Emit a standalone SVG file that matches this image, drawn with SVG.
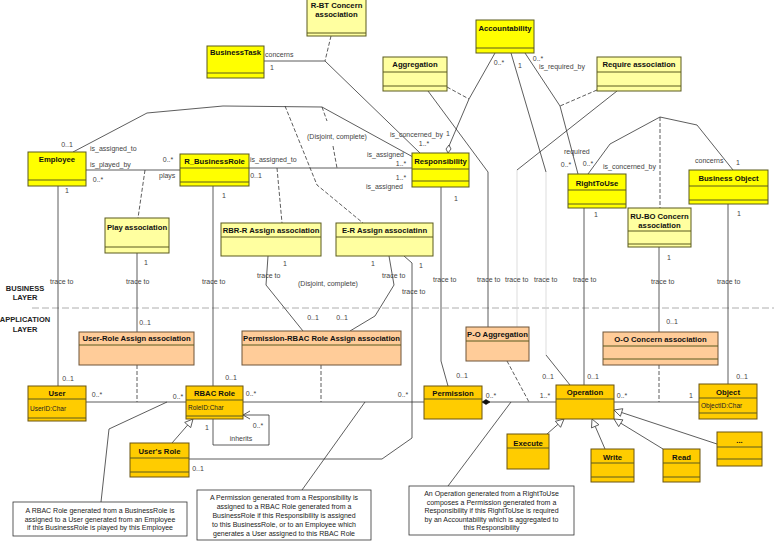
<svg xmlns="http://www.w3.org/2000/svg" width="774" height="541" viewBox="0 0 774 541">
<style>
.b{fill:#FFFF00;stroke:#5a5a1e;stroke-width:1}
.a{fill:#FFFFA0;stroke:#5a5a1e;stroke-width:1}
.o{fill:#FFCC99;stroke:#6e5538;stroke-width:1}
.g{fill:#FFCC00;stroke:#6b5410;stroke-width:1}
.s{stroke:#5a5a1e;stroke-width:1}
.t{font-family:"Liberation Sans",Arial,sans-serif;font-size:7.7px;font-weight:bold;fill:#111;text-anchor:middle}
.at{font-family:"Liberation Sans",Arial,sans-serif;font-size:6.5px;fill:#222}
.l{font-family:"Liberation Sans",Arial,sans-serif;font-size:7px;fill:#444}
.m{font-family:"Liberation Sans",Arial,sans-serif;font-size:7px;fill:#444;text-anchor:middle}
.n{font-family:"Liberation Sans",Arial,sans-serif;font-size:7px;fill:#222;text-anchor:middle}
.ly{font-family:"Liberation Sans",Arial,sans-serif;font-size:7.5px;font-weight:bold;fill:#222;text-anchor:middle}
.c{fill:none;stroke:#333;stroke-width:0.8}
.f{fill:none;stroke:#d4d4d4;stroke-width:0.8}
.d{fill:none;stroke:#333;stroke-width:0.8;stroke-dasharray:4,2}
.note{fill:#fff;stroke:#333;stroke-width:0.8}
.tri{fill:#fff;stroke:#333;stroke-width:0.8}
</style>
<rect width="774" height="541" fill="#fff"/>

<!-- layer separator -->
<line x1="32" y1="308" x2="774" y2="308" stroke="#999" stroke-width="0.8" stroke-dasharray="7,3"/>
<text class="ly" x="25" y="291">BUSINESS</text>
<text class="ly" x="25" y="300">LAYER</text>
<text class="ly" x="25" y="322">APPLICATION</text>
<text class="ly" x="25" y="332">LAYER</text>

<g id="connectors">
<!-- BusinessTask - Responsibility -->
<path class="c" d="M264,61 H325 L420,153"/>
<path class="d" d="M331,36 L325,61"/>
<!-- Employee - Responsibility -->
<path class="c" d="M73,152 L147,113 L223,106 L322,107 L413,157"/>
<path class="d" d="M322,107 L327,121 M333,146 L337,168"/>
<path class="d" d="M285,106 L317,185 L363,223"/>
<!-- Employee - R_BusinessRole -->
<path class="c" d="M86,170 H180"/>
<path class="d" d="M145,170 L138,218"/>
<!-- R_BusinessRole - Responsibility -->
<path class="c" d="M249,168 H412"/>
<path class="d" d="M277,168 L282,223"/>
<!-- Accountability - Responsibility aggregation -->
<path class="c" d="M495,53 L469,99 L449,146"/>
<polygon class="tri" points="448,153 446,149 449,145 451,149"/>
<path class="d" d="M447,87 L469,99"/>
<!-- Aggregation trace to P-O -->
<path class="c" d="M428,91 L488,172 V327"/>
<!-- Accountability trace -->
<path class="c" d="M511,53 L546,172"/>
<path class="f" d="M546,172 V355"/>
<path class="c" d="M546,355 L570,385"/>
<!-- Require association trace -->
<path class="c" d="M617,91 L517,170"/>
<path class="f" d="M517,170 V327"/>
<!-- Accountability - RightToUse -->
<path class="c" d="M525,53 L560,106 L578,174"/>
<path class="d" d="M597,90 L560,106"/>
<!-- RightToUse - Business Object -->
<path class="c" d="M588,174 L610,144 L660,117 L697,125 L733,170"/>
<path class="d" d="M660,117 V208"/>
<!-- trace lines -->
<path class="c" d="M58,186 V386"/>
<path class="c" d="M213,186 V386"/>
<path class="c" d="M137,253 V332"/>
<path class="d" d="M137,365 V402"/>
<path class="c" d="M268,256 L266,285 L303,331"/>
<path class="c" d="M389,256 L394,285 L375,316 L350,331"/>
<path class="c" d="M404,256 L412,263 V438 L382,459 H189"/>
<path class="c" d="M441,187 V361 L448,386"/>
<path class="c" d="M584,208 V385"/>
<path class="c" d="M659,247 V332"/>
<path class="d" d="M659,365 V402"/>
<path class="c" d="M728,204 V384"/>
<!-- application layer associations -->
<path class="c" d="M86,402 H186"/>
<path class="c" d="M243,402 H424"/>
<path class="d" d="M321,365 V402"/>
<path class="c" d="M482,402 H556"/>
<polygon points="482,402 486,399.5 490,402 486,404.5" fill="#111" stroke="#111" stroke-width="0.6"/>
<path class="d" d="M507,361 L529,402"/>
<path class="c" d="M614,402 H699"/>
<!-- inherits -->
<path class="c" d="M213,419 V445 H269 V415 H243"/>
<path class="c" d="M250,411 L243,415 L250,419"/>
<!-- generalizations -->
<path class="c" d="M172,443 L187.7,425"/>
<polygon class="tri" points="193,419 190.7,427.6 184.7,422.4"/>
<path class="c" d="M547,434 L558,424.3"/>
<polygon class="tri" points="564,419 560.6,427.3 555.4,421.3"/>
<path class="c" d="M605,449 L595.2,426.3"/>
<polygon class="tri" points="592,419 598.9,424.7 591.5,427.9"/>
<path class="c" d="M663,449 L620.8,423.2"/>
<polygon class="tri" points="614,419 622.9,419.8 618.7,426.6"/>
<path class="c" d="M717,444 L621.6,412.5"/>
<polygon class="tri" points="614,410 622.85,408.7 620.35,416.3"/>
<!-- notes links -->
<path class="c" d="M101,502 L109,429 L167,402"/>
<path class="c" d="M302,490 L365,402"/>
<path class="c" d="M448,486 L511,402"/>
</g>

<g id="labels">
<text class="l" x="265" y="57">concerns</text>
<text class="m" x="272" y="70">1</text>
<text class="m" x="67" y="147">0..1</text>
<text class="l" x="90" y="151">is_assigned_to</text>
<text class="l" x="90" y="167">is_played_by</text>
<text class="m" x="98" y="182">0..*</text>
<text class="m" x="168" y="162">0..*</text>
<text class="l" x="159" y="178">plays</text>
<text class="l" x="250" y="162">is_assigned_to</text>
<text class="m" x="256" y="178">0..1</text>
<text class="l" x="307" y="139">(Disjoint, complete)</text>
<text class="l" x="390" y="137">is_concerned_by</text>
<text class="m" x="448" y="136">1</text>
<text class="m" x="424" y="146">1..*</text>
<text class="l" x="367" y="157">is_assigned</text>
<text class="m" x="401" y="166">1..*</text>
<text class="m" x="401" y="180">1..*</text>
<text class="l" x="366" y="189">is_assigned</text>
<text class="m" x="499" y="65">0..*</text>
<text class="m" x="520" y="68">1</text>
<text class="m" x="538" y="61">0..*</text>
<text class="l" x="539" y="69">is_required_by</text>
<text class="l" x="564" y="154">required</text>
<text class="m" x="566" y="167">0..*</text>
<text class="m" x="588" y="166">0..*</text>
<text class="l" x="603" y="169">is_concerned_by</text>
<text class="l" x="695" y="163">concerns</text>
<text class="m" x="738" y="165">1</text>
<text class="m" x="67" y="193">1</text>
<text class="m" x="224" y="198">1</text>
<text class="m" x="146" y="265">1</text>
<text class="m" x="145" y="325">0..1</text>
<text class="m" x="285" y="266">1</text>
<text class="m" x="313" y="320">0..1</text>
<text class="m" x="373" y="266">1</text>
<text class="m" x="342" y="320">0..1</text>
<text class="m" x="421" y="268">1</text>
<text class="m" x="456" y="201">1</text>
<text class="m" x="596" y="217">1</text>
<text class="m" x="669" y="260">1</text>
<text class="m" x="672" y="324">0..1</text>
<text class="m" x="739" y="216">1</text>
<text class="l" x="298" y="286">(Disjoint, complete)</text>
<text class="l" x="50" y="284">trace to</text>
<text class="l" x="126" y="284">trace to</text>
<text class="l" x="202" y="284">trace to</text>
<text class="l" x="257" y="278">trace to</text>
<text class="l" x="382" y="278">trace to</text>
<text class="l" x="402" y="294">trace to</text>
<text class="l" x="433" y="282">trace to</text>
<text class="l" x="477" y="282">trace to</text>
<text class="l" x="505" y="282">trace to</text>
<text class="l" x="534" y="282">trace to</text>
<text class="l" x="573" y="282">trace to</text>
<text class="l" x="651" y="284">trace to</text>
<text class="l" x="717" y="284">trace to</text>
<text class="m" x="68" y="381">0..1</text>
<text class="m" x="97" y="397">0..*</text>
<text class="m" x="178" y="399">0..*</text>
<text class="m" x="231" y="380">0..1</text>
<text class="m" x="251" y="396">0..*</text>
<text class="m" x="207" y="430">1</text>
<text class="m" x="258" y="428">0..*</text>
<text class="m" x="241" y="441">inherits</text>
<text class="m" x="198" y="471">0..1</text>
<text class="m" x="403" y="397">0..*</text>
<text class="m" x="462" y="378">0..1</text>
<text class="m" x="491" y="398">0..*</text>
<text class="m" x="545" y="398">1..*</text>
<text class="m" x="548" y="379">0..1</text>
<text class="m" x="593" y="379">0..1</text>
<text class="m" x="622" y="398">0..*</text>
<text class="m" x="691" y="398">1</text>
<text class="m" x="742" y="379">0..1</text>
</g>

<!-- Business layer classes -->
<g id="rbt"><rect class="a" x="307" y="-1" width="59" height="37"/><line class="s" x1="307" y1="33" x2="366" y2="33"/><text class="t" x="336.5" y="8">R-BT Concern</text><text class="t" x="336.5" y="17">association</text></g>
<g id="businesstask"><rect class="b" x="207" y="46" width="57" height="32"/><line class="s" x1="207" y1="73" x2="264" y2="73"/><text class="t" x="235.5" y="55">BusinessTask</text></g>
<g id="aggregation"><rect class="a" x="383" y="57" width="64" height="34"/><line class="s" x1="383" y1="72" x2="447" y2="72"/><line class="s" x1="383" y1="86" x2="447" y2="86"/><text class="t" x="415" y="67">Aggregation</text></g>
<g id="accountability"><rect class="b" x="476" y="20" width="58" height="33"/><line class="s" x1="476" y1="48" x2="534" y2="48"/><text class="t" x="505" y="31">Accountability</text></g>
<g id="require"><rect class="a" x="597" y="57" width="84" height="34"/><line class="s" x1="597" y1="72" x2="681" y2="72"/><line class="s" x1="597" y1="86" x2="681" y2="86"/><text class="t" x="639" y="67">Require association</text></g>
<g id="employee"><rect class="b" x="28" y="152" width="58" height="34"/><line class="s" x1="28" y1="180" x2="86" y2="180"/><text class="t" x="57" y="162">Employee</text></g>
<g id="r_businessrole"><rect class="b" x="180" y="154" width="69" height="32"/><line class="s" x1="180" y1="168" x2="249" y2="168"/><line class="s" x1="180" y1="182" x2="249" y2="182"/><text class="t" x="214.5" y="164">R_BusinessRole</text></g>
<g id="responsibility"><rect class="b" x="412" y="153" width="57" height="34"/><line class="s" x1="412" y1="169" x2="469" y2="169"/><line class="s" x1="412" y1="181" x2="469" y2="181"/><text class="t" x="440.5" y="164">Responsibility</text></g>
<g id="righttouse"><rect class="b" x="568" y="174" width="58" height="34"/><line class="s" x1="568" y1="190" x2="626" y2="190"/><line class="s" x1="568" y1="204" x2="626" y2="204"/><text class="t" x="597" y="186">RightToUse</text></g>
<g id="businessobject"><rect class="b" x="689" y="170" width="79" height="34"/><line class="s" x1="689" y1="186" x2="768" y2="186"/><line class="s" x1="689" y1="200" x2="768" y2="200"/><text class="t" x="728.5" y="181">Business Object</text></g>
<g id="play"><rect class="a" x="105" y="218" width="64" height="35"/><line class="s" x1="105" y1="247" x2="169" y2="247"/><text class="t" x="137" y="230">Play association</text></g>
<g id="rbrr"><rect class="a" x="221" y="223" width="100" height="33"/><line class="s" x1="221" y1="237" x2="321" y2="237"/><text class="t" x="271" y="233">RBR-R Assign association</text></g>
<g id="er"><rect class="a" x="336" y="223" width="97" height="33"/><line class="s" x1="336" y1="237" x2="433" y2="237"/><text class="t" x="384.5" y="233">E-R Assign associatinn</text></g>
<g id="rubo"><rect class="a" x="628" y="208" width="63" height="39"/><line class="s" x1="628" y1="231" x2="691" y2="231"/><line class="s" x1="628" y1="244" x2="691" y2="244"/><text class="t" x="659.5" y="219">RU-BO Concern</text><text class="t" x="659.5" y="228">association</text></g>

<!-- Application layer -->
<g id="userrole"><rect class="o" x="79" y="332" width="115" height="33"/><line class="s" x1="79" y1="345" x2="194" y2="345" stroke="#6e5538"/><text class="t" x="136.5" y="341">User-Role Assign association</text></g>
<g id="permrbac"><rect class="o" x="242" y="331" width="159" height="34"/><line class="s" x1="242" y1="345" x2="401" y2="345" stroke="#6e5538"/><text class="t" x="321.5" y="341">Permission-RBAC Role Assign association</text></g>
<g id="poaggr"><rect class="o" x="466" y="327" width="63" height="34"/><line class="s" x1="466" y1="341" x2="529" y2="341" stroke="#6e5538"/><text class="t" x="497.5" y="337">P-O Aggregation</text></g>
<g id="ooconcern"><rect class="o" x="603" y="332" width="115" height="33"/><line class="s" x1="603" y1="346" x2="718" y2="346" stroke="#6e5538"/><line class="s" x1="603" y1="359" x2="718" y2="359" stroke="#6e5538"/><text class="t" x="660.5" y="342">O-O Concern association</text></g>
<g id="user"><rect class="g" x="28" y="386" width="58" height="35"/><line class="s" x1="28" y1="399" x2="86" y2="399"/><line class="s" x1="28" y1="418" x2="86" y2="418"/><text class="t" x="57" y="396">User</text><text class="at" x="30" y="411">UserID:Char</text></g>
<g id="rbacrole"><rect class="g" x="186" y="386" width="57" height="33"/><line class="s" x1="186" y1="400" x2="243" y2="400"/><line class="s" x1="186" y1="416" x2="243" y2="416"/><text class="t" x="214.5" y="396">RBAC Role</text><text class="at" x="188" y="410">RoleID:Char</text></g>
<g id="usersrole"><rect class="g" x="130" y="443" width="59" height="34"/><line class="s" x1="130" y1="458" x2="189" y2="458"/><line class="s" x1="130" y1="472" x2="189" y2="472"/><text class="t" x="159.5" y="454">User's Role</text></g>
<g id="permission"><rect class="g" x="424" y="386" width="58" height="33"/><line class="s" x1="424" y1="399" x2="482" y2="399"/><text class="t" x="453" y="396">Permission</text></g>
<g id="operation"><rect class="g" x="556" y="385" width="58" height="34"/><line class="s" x1="556" y1="399" x2="614" y2="399"/><text class="t" x="585" y="395">Operation</text></g>
<g id="object"><rect class="g" x="699" y="384" width="58" height="35"/><line class="s" x1="699" y1="398" x2="757" y2="398"/><line class="s" x1="699" y1="413" x2="757" y2="413"/><text class="t" x="728" y="395">Object</text><text class="at" x="701" y="408">ObjectID:Char</text></g>
<g id="execute"><rect class="g" x="507" y="434" width="42" height="35"/><line class="s" x1="507" y1="448" x2="549" y2="448"/><text class="t" x="528" y="446">Execute</text></g>
<g id="write"><rect class="g" x="591" y="449" width="43" height="33"/><line class="s" x1="591" y1="463" x2="634" y2="463"/><line class="s" x1="591" y1="477" x2="634" y2="477"/><text class="t" x="612.5" y="460">Write</text></g>
<g id="read"><rect class="g" x="663" y="449" width="37" height="33"/><line class="s" x1="663" y1="463" x2="700" y2="463"/><line class="s" x1="663" y1="477" x2="700" y2="477"/><text class="t" x="681.5" y="460">Read</text></g>
<g id="more"><rect class="g" x="717" y="432" width="45" height="34"/><line class="s" x1="717" y1="447" x2="762" y2="447"/><line class="s" x1="717" y1="459" x2="762" y2="459"/><text class="t" x="739.5" y="443">...</text></g>

<!-- notes -->
<g id="note1"><rect class="note" x="13" y="502" width="174" height="34"/>
<text class="n" x="100" y="513">A RBAC Role generated  from a BusinessRole  is</text>
<text class="n" x="100" y="521.5">assigned to a User generated from an Employee</text>
<text class="n" x="100" y="530">if this BusinessRole is played by this Employee</text></g>
<g id="note2"><rect class="note" x="197" y="490" width="174" height="50"/>
<text class="n" x="284" y="499.5">A Permission generated from a Responsibility is</text>
<text class="n" x="284" y="508.5">assigned to a RBAC Role generated from a</text>
<text class="n" x="284" y="517.5">BusinessRole if this Responsibility is assigned</text>
<text class="n" x="284" y="526.5">to this BusinessRole, or to an Employee which</text>
<text class="n" x="284" y="535.5">generates a User assigned to this RBAC Role</text></g>
<g id="note3"><rect class="note" x="409" y="486" width="165" height="49"/>
<text class="n" x="491.5" y="496">An Operation generated from a RightToUse</text>
<text class="n" x="491.5" y="504.5">composes a Permission generated from a</text>
<text class="n" x="491.5" y="513">Responsibility if this RightToUse is required</text>
<text class="n" x="491.5" y="521.5">by an Accountability which is aggregated to</text>
<text class="n" x="491.5" y="530">this Responsibility</text></g>
</svg>
